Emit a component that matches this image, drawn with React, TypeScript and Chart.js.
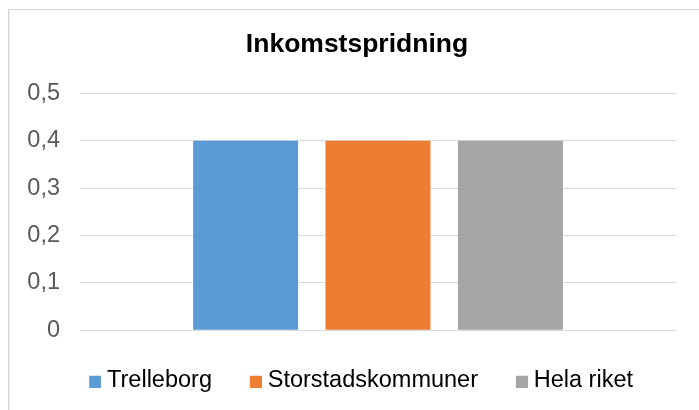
import React, { useEffect, useRef } from 'react';
import { Chart, registerables } from 'chart.js';

Chart.register(...registerables);

// ---- data ----
const categories = [''];
const seriesNames = ['Trelleborg', 'Storstadskommuner', 'Hela riket'];
const trelleborg = [0.4];
const storstadskommuner = [0.4];
const helaRiket = [0.4];
const seriesColors = ['#5B9BD5', '#ED7D31', '#A5A5A5'];
const yTickValues = [0, 0.1, 0.2, 0.3, 0.4, 0.5];
const chartTitle = 'Inkomstspridning';

const FONT = '"Liberation Sans", Arial, sans-serif';

function makeSwatch(color: string): HTMLCanvasElement {
  const c = document.createElement('canvas');
  c.width = 26;
  c.height = 15;
  const g = c.getContext('2d')!;
  g.fillStyle = color;
  g.fillRect(14, 3, 12, 12);
  return c;
}

const framePlugin = {
  id: 'frame',
  beforeDraw(chart: any) {
    const { ctx } = chart;
    ctx.save();
    ctx.fillStyle = '#d9d9d9';
    ctx.fillRect(8, 9, 1.5, chart.height - 9);
    ctx.fillRect(8, 9, chart.width - 8, 1.2);
    ctx.restore();
  },
};

export default function App() {
  const ref = useRef<HTMLCanvasElement | null>(null);

  useEffect(() => {
    if (!ref.current) return;
    const swatches = seriesColors.map(makeSwatch);
    const values = [trelleborg, storstadskommuner, helaRiket];
    const chart = new Chart(ref.current, {
      type: 'bar',
      data: {
        labels: categories,
        datasets: seriesNames.map((name, i) => ({
          label: name,
          data: values[i],
          backgroundColor: seriesColors[i],
          borderWidth: 0,
          categoryPercentage: 0.6664,
          barPercentage: 0.793,
          yAxisID: 'y',
        })),
      },
      options: {
        responsive: false,
        animation: false,
        devicePixelRatio: 1,
        layout: { padding: { top: 29.1, left: 20, right: 5, bottom: 8.05 } },
        plugins: {
          tooltip: { enabled: false },
          title: {
            display: true,
            text: chartTitle,
            color: '#000000',
            font: { family: FONT, size: 26.5, weight: 'bold', lineHeight: 1.2 },
            padding: { top: 0, bottom: 32.4 },
          },
          legend: {
            display: true,
            position: 'bottom',
            align: 'center',
            labels: {
              usePointStyle: true,
              pointStyleWidth: 14.3,
              boxHeight: 12,
              padding: 29.7,
              color: '#000000',
              font: { family: FONT, size: 23.5 },
              generateLabels: (c: any) => {
                const items = (Chart as any).defaults.plugins.legend.labels.generateLabels(c);
                items.forEach((it: any, i: number) => {
                  it.pointStyle = swatches[i];
                });
                return items;
              },
            },
          },
        },
        scales: {
          x: {
            display: true,
            grid: { display: false },
            border: { display: false },
            ticks: { display: false },
            afterFit: (s: any) => {
              s.height = 8.45;
            },
          },
          y: {
            position: 'left',
            min: 0,
            max: 0.5,
            afterBuildTicks: (s: any) => {
              s.ticks = yTickValues.map((v) => ({ value: v }));
            },
            ticks: {
              color: '#595959',
              padding: 20,
              font: { family: FONT, size: 23.5 },
              callback: (v: any) => (Number(v) === 0 ? '0' : Number(v).toFixed(1).replace('.', ',')),
            },
            grid: { color: '#d9d9d9', lineWidth: 1, drawTicks: false },
            border: { display: false },
            afterFit: (s: any) => {
              s.width = 60;
            },
          },
          yRight: {
            type: 'linear',
            position: 'right',
            display: true,
            min: 0,
            max: 0.5,
            grid: { display: false, drawTicks: false },
            border: { display: false },
            ticks: { display: false },
            afterFit: (s: any) => {
              s.width = 18;
            },
          },
        },
      },
      plugins: [framePlugin],
    } as any);
    return () => chart.destroy();
  }, []);

  return (
    <div style={{ position: 'fixed', left: 0, top: 0, width: 699, height: 410, background: '#fff' }}>
      <canvas ref={ref} width={699} height={410} style={{ display: 'block' }} />
    </div>
  );
}
